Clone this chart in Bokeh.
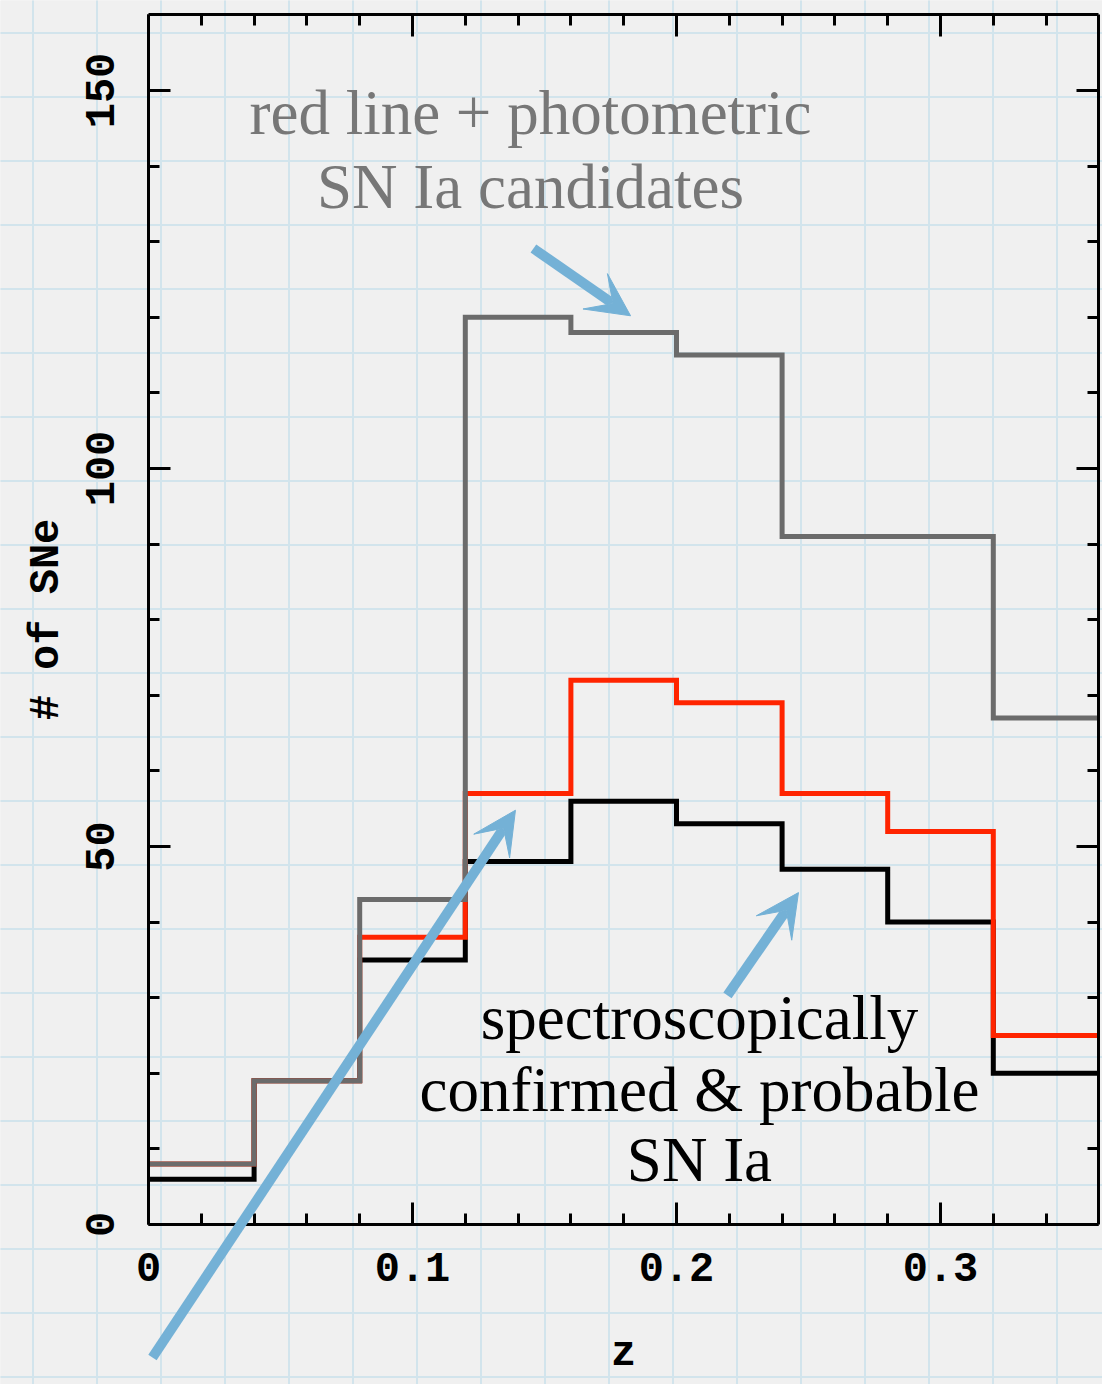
import math
from bokeh.plotting import figure
from bokeh.models import (Range1d, LinearAxis, FixedTicker, Arrow, VeeHead,
                          Label, BoxAnnotation)
from bokeh.embed import file_html
from bokeh.resources import INLINE

# ---- data -------------------------------------------------------------
bin_edges = [0.0, 0.04, 0.08, 0.12, 0.16, 0.20, 0.24, 0.28, 0.32, 0.36]
photometric = [8, 19, 43, 120, 118, 115, 91, 91, 67]      # grey
red_line = [8, 19, 38, 57, 72, 69, 57, 52, 25]            # red
spec_confirmed = [6, 19, 35, 48, 56, 53, 47, 40, 20]      # black

x_ticks = [0, 0.1, 0.2, 0.3]
x_tick_labels = ["0", "0.1", "0.2", "0.3"]
x_minor = [0.02, 0.04, 0.06, 0.08, 0.12, 0.14, 0.16, 0.18, 0.22, 0.24, 0.26,
           0.28, 0.32, 0.34]
y_ticks = [0, 50, 100, 150]
y_tick_labels = ["0", "50", "100", "150"]
y_minor = [10, 20, 30, 40, 60, 70, 80, 90, 110, 120, 130, 140]
x_box = (0.0, 0.36)     # plotted z interval
y_box = (0.0, 160.0)    # plotted count interval

# annotation texts and arrow anchors (data coordinates)
grey_text = ["red line + photometric", "SN Ia candidates"]
grey_text_x = 0.1447
grey_text_y = [147.0, 137.2]
black_text = ["spectroscopically", "confirmed & probable", "SN Ia"]
black_text_x = 0.2087
black_text_y = [27.3, 17.8, 8.5]
arrows = [  # (x_start, y_start, x_end, y_end)
    (0.1458, 129.1, 0.1826, 120.2),
    (0.2193, 30.3, 0.2462, 43.9),
    (0.0015, -17.6, 0.1390, 54.8),
]

# ---- figure (frame spans the whole canvas; the axes box sits inside) ---
W, H = 1102, 1384
px_per_x = 2640.0     # pixels per unit z
px_per_y = 7.56       # pixels per SN
left_px, bottom_px = 148, 160
x_lo = -left_px / px_per_x
x_hi = x_lo + W / px_per_x
y_lo = -bottom_px / px_per_y
y_hi = y_lo + H / px_per_y

p = figure(width=W, height=H, x_range=Range1d(x_lo, x_hi),
           y_range=Range1d(y_lo, y_hi), output_backend="svg",
           toolbar_location=None, x_axis_type=None, y_axis_type=None,
           min_border=0)
p.background_fill_color = "#f0f0f0"
p.border_fill_color = "#f0f0f0"
p.outline_line_color = None
p.xgrid.visible = False
p.ygrid.visible = False

# graph-paper background
paper = BoxAnnotation(left=-1, right=1, bottom=-100, top=300,
                      fill_color="#f0f0f0", fill_alpha=1.0,
                      line_alpha=0, hatch_pattern="+", hatch_scale=64,
                      hatch_weight=2.0, hatch_color="#d2e4ec",
                      level="image")
p.add_layout(paper)

mono = "Liberation Mono"


def style_axis(ax):
    ax.axis_line_width = 3
    ax.axis_line_color = "black"
    ax.major_tick_in = 22
    ax.major_tick_out = 0
    ax.minor_tick_in = 11
    ax.minor_tick_out = 0
    ax.major_tick_line_width = 3
    ax.minor_tick_line_width = 3
    ax.major_tick_line_color = "black"
    ax.minor_tick_line_color = "black"
    ax.major_label_text_font = mono
    ax.major_label_text_font_size = "42px"
    ax.major_label_text_font_style = "bold"
    ax.major_label_text_color = "black"
    ax.axis_label_text_font = mono
    ax.axis_label_text_font_size = "42px"
    ax.axis_label_text_font_style = "bold"
    ax.axis_label_text_color = "black"


xb = LinearAxis(ticker=FixedTicker(ticks=x_ticks, minor_ticks=x_minor),
                axis_label="z", fixed_location=y_box[0], bounds=x_box)
style_axis(xb)
xb.major_label_overrides = {t: l for t, l in zip(x_ticks, x_tick_labels)}
xb.major_label_standoff = 28
xb.axis_label_standoff = 46
p.add_layout(xb, "below")

yl = LinearAxis(ticker=FixedTicker(ticks=y_ticks, minor_ticks=y_minor),
                axis_label="# of SNe", fixed_location=x_box[0], bounds=y_box)
style_axis(yl)
yl.major_label_overrides = {t: l for t, l in zip(y_ticks, y_tick_labels)}
yl.major_label_orientation = "vertical"
yl.major_label_standoff = 35
yl.axis_label_standoff = 12
p.add_layout(yl, "left")

xt = LinearAxis(ticker=FixedTicker(ticks=x_ticks, minor_ticks=x_minor),
                fixed_location=y_box[1], bounds=x_box)
style_axis(xt)
xt.major_label_overrides = {t: "" for t in x_ticks}
p.add_layout(xt, "above")

yr = LinearAxis(ticker=FixedTicker(ticks=y_ticks, minor_ticks=y_minor),
                fixed_location=x_box[1], bounds=y_box)
style_axis(yr)
yr.major_label_overrides = {t: "" for t in y_ticks}
p.add_layout(yr, "right")

# ---- histograms (step lines) -------------------------------------------
for vals, col in [(spec_confirmed, "black"), (red_line, "#ff2400"),
                  (photometric, "#6b6b6b")]:
    p.step(x=bin_edges, y=vals + [vals[-1]], mode="after", line_color=col,
           line_width=5, line_join="miter")

# ---- texts ------------------------------------------------------------
for txt, yy in zip(grey_text, grey_text_y):
    p.add_layout(Label(x=grey_text_x, y=yy, text=txt, text_align="center",
                       text_baseline="alphabetic",
                       text_font="Liberation Serif", text_font_size="63px",
                       text_color="#777777"))
for txt, yy in zip(black_text, black_text_y):
    p.add_layout(Label(x=black_text_x, y=yy, text=txt, text_align="center",
                       text_baseline="alphabetic",
                       text_font="Liberation Serif", text_font_size="63px",
                       text_color="black"))

# ---- arrows -------------------------------------------------------------
blue = "#74b1d6"
for xs, ys, xe, ye in arrows:
    p.add_layout(Arrow(end=VeeHead(size=43, fill_color=blue, line_color=blue,
                                   line_width=1),
                       x_start=xs, y_start=ys, x_end=xe, y_end=ye,
                       line_color=blue, line_width=10))

open("out.html", "w").write(file_html(p, INLINE))
